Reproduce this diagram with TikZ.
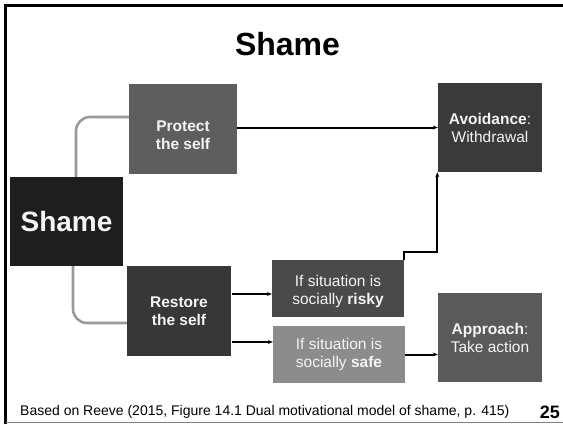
\documentclass[tikz,border=0pt]{standalone}
\usepackage{fontspec}
\setmainfont{Liberation Sans}
\usetikzlibrary{arrows.meta}
\definecolor{cshame}{HTML}{1E1E1E}
\definecolor{cprotect}{HTML}{5E5E5E}
\definecolor{crestore}{HTML}{373737}
\definecolor{crisky}{HTML}{4A4A4A}
\definecolor{csafe}{HTML}{8C8C8C}
\definecolor{cavoid}{HTML}{3A3A3A}
\definecolor{capproach}{HTML}{5A5A5A}
\definecolor{ctext}{HTML}{F4F4F4}
\definecolor{cconn}{HTML}{9A9A9A}
\tikzset{
  box/.style={inner sep=0pt, text=ctext, align=center,
    font=\fontsize{15.5}{18}\selectfont},
  arr/.style={draw=black, line width=2pt, -{Stealth[length=5pt,width=4pt]}},
  conn/.style={draw=cconn, line width=2.6pt, rounded corners=14pt},
}
\begin{document}
\begin{tikzpicture}[x=1pt,y=-1pt]
\useasboundingbox (0,0) rectangle (563,424);
\fill[white] (0,0) rectangle (563,424);
% frame
\draw[black, line width=3pt] (5.5,424) -- (5.5,5.5) -- (563,5.5);
\draw[gray, line width=1pt] (5.5,422) -- (563,422);

% title
\node[font=\fontsize{32}{36}\bfseries\selectfont, anchor=base] (title) at (287.5,55) {Shame};

% boxes
\node[box, fill=cshame, minimum width=113pt, minimum height=89pt,
      font=\fontsize{28}{32}\bfseries\selectfont] (shame) at (66.5,221.5) {Shame};
\node[box, fill=cprotect, minimum width=108pt, minimum height=90pt, font=\fontsize{15.5}{18}\bfseries\selectfont] (protect) at (183,129) {\rule{0pt}{24pt}Protect\\the self};
\node[box, fill=crestore, minimum width=104pt, minimum height=90pt, font=\fontsize{15.5}{18}\bfseries\selectfont] (restore) at (179,311) {Restore\\the self};
\node[box, fill=crisky, minimum width=132pt, minimum height=57pt] (risky) at (338,288.5) {\rule{0pt}{17pt}If situation is\\socially \textbf{risky}};
\node[box, fill=csafe, minimum width=132pt, minimum height=57pt] (safe) at (339,354.5) {If situation is\\socially \textbf{safe}};
\node[box, fill=cavoid, minimum width=104pt, minimum height=89pt] (avoid) at (490,127.5) {\textbf{Avoidance}:\\Withdrawal};
\node[box, fill=capproach, minimum width=104pt, minimum height=89pt] (approach) at (490,337.5) {\textbf{Approach}:\\Take action};

% gray connectors
\coordinate (ct) at (76,117);
\coordinate (cb) at (73,323);
\draw[conn] (shame.north -| ct) -- (ct) -- (protect.west |- ct);
\draw[conn] (shame.south -| cb) -- (cb) -- (restore.west |- cb);

% arrows
\coordinate (ra) at (0,294);
\coordinate (sa) at (0,342);
\coordinate (el) at (0,251.5);
\draw[arr] (protect.east |- avoid.west) -- (avoid.west);
\draw[arr] ([xshift=1pt]restore.east |- ra) -- (risky.west |- ra);
\draw[arr] ([xshift=1pt]restore.east |- sa) -- (safe.west |- sa);
\draw[arr] (safe.east) -- (safe.east -| approach.west);
\draw[arr] ([xshift=-0.5pt]risky.north east) -- ([xshift=-0.5pt]risky.north east |- el) -| ([xshift=-0.5pt]avoid.south west);

% footer
\node[anchor=base west, font=\fontsize{14}{16}\selectfont, inner sep=0pt] (foot) at (20,415) {Based on Reeve (2015, Figure 14.1 Dual motivational model of shame, p. 415)};
\node[anchor=base east, font=\fontsize{18}{20}\bfseries\selectfont, inner sep=0pt] (page) at (560,418.5) {25};
\end{tikzpicture}
\end{document}
